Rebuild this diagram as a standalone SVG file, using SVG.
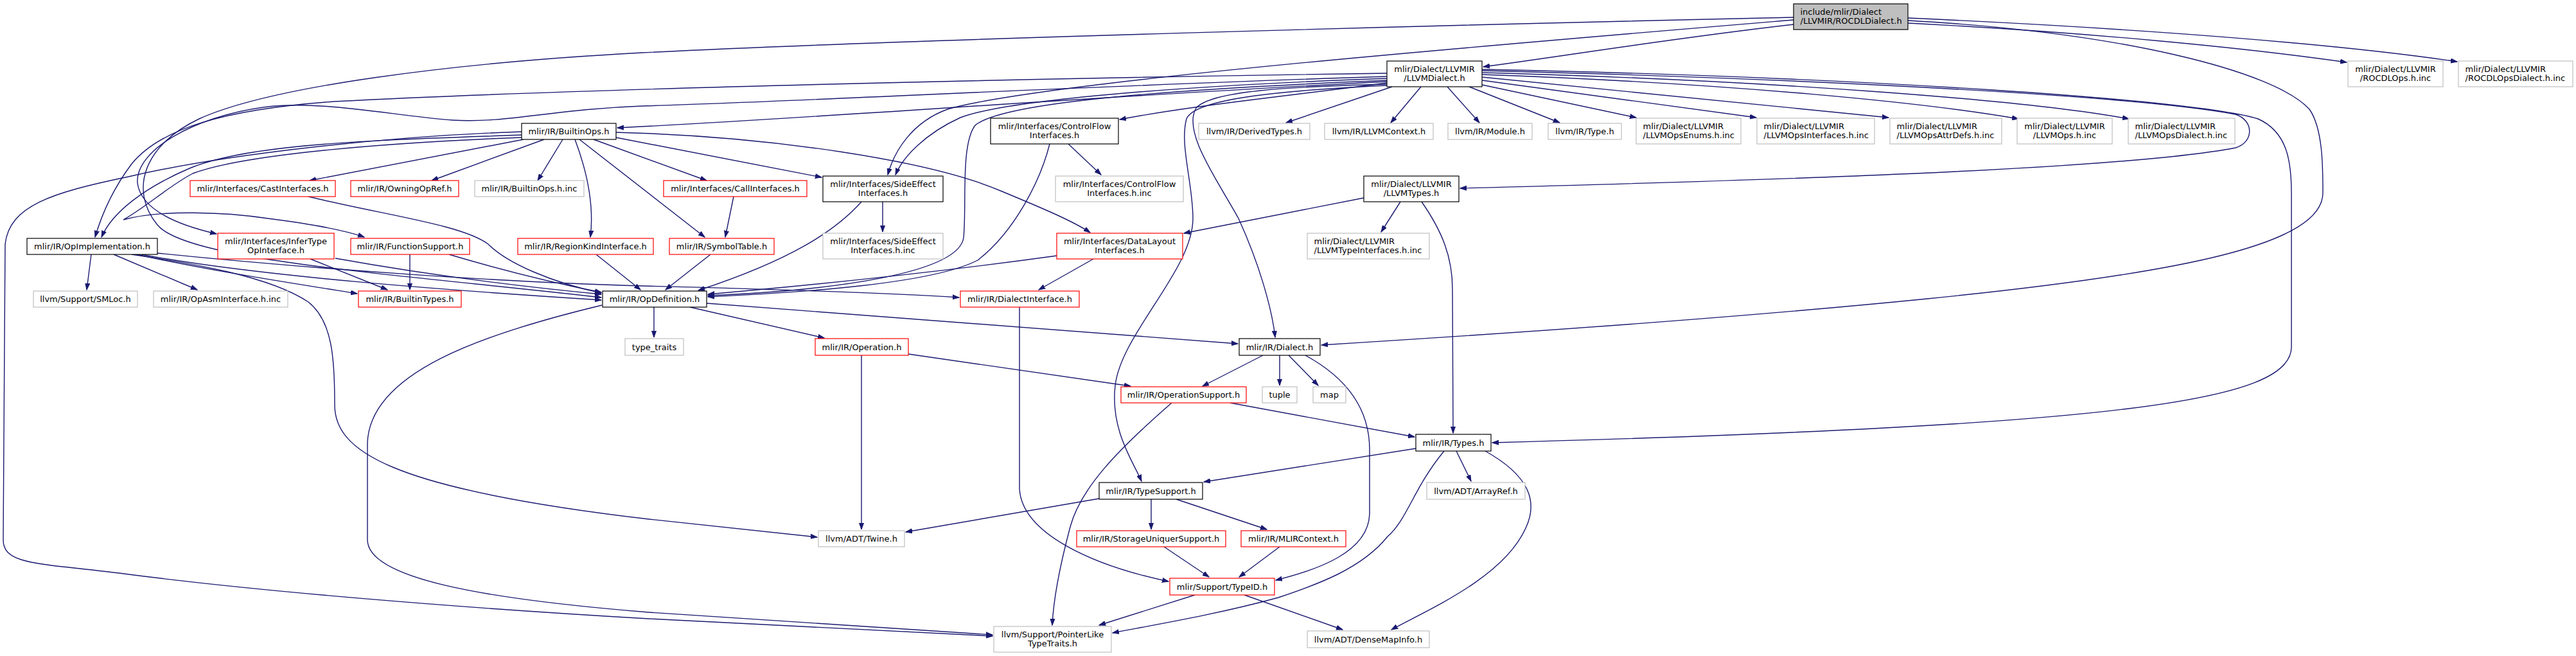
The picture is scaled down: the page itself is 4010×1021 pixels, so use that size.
<svg xmlns="http://www.w3.org/2000/svg" width="4010" height="1021" viewBox="0 0 4010 1021">
<style>
.node rect{fill:#fff;stroke-width:1.2}
.k rect{stroke:#000}
.r rect{stroke:#ff0000}
.g rect{stroke:#bfbfbf}
.root rect{fill:#bfbfbf;stroke:#000}
text{font-family:"DejaVu Sans","Liberation Sans",sans-serif;font-size:13px;fill:#000;text-anchor:middle}
.l text{text-anchor:start}
#edges path{fill:none;stroke:#191970;stroke-width:1.4;marker-end:url(#ah)}
</style>
<defs>
<marker id="ah" markerUnits="userSpaceOnUse" markerWidth="11" markerHeight="8" refX="10" refY="4" orient="auto" viewBox="0 0 11 8">
<path d="M0,0.5 L10,4 L0,7.5 z" fill="#191970" stroke="#191970" stroke-width="1"/>
</marker>
</defs>
<rect width="4010" height="1021" fill="#fff"/>
<g id="edges">
<path d="M2792,38 C2600,60 2450,85 2309,104"/>
<path d="M2792,31 C2300,72 1620,128 1475,170 C1420,190 1392,235 1382,272"/>
<path d="M2792,27 C2200,40 1400,62 1000,82 C700,98 420,135 310,185 C225,225 200,295 245,350 C290,405 600,425 936,463"/>
<path d="M2970,32 C3300,50 3540,110 3595,170 C3616,200 3616,260 3616,300 C3616,380 3400,425 3000,465 C2700,495 2300,522 2057,537"/>
<path d="M2970,36 C3250,50 3500,75 3653,97"/>
<path d="M2970,28 C3350,45 3650,70 3825,96"/>
<path d="M2159,127 C1700,150 1300,182 961,199"/>
<path d="M2159,114 C1600,122 900,138 520,158 C350,170 250,200 205,255 C175,295 158,335 148,369"/>
<path d="M2159,119 C1700,133 1250,158 1000,165 C860,170 790,192 705,187 C610,180 500,155 410,167 C300,182 210,235 214,285 C220,330 285,352 337,364"/>
<path d="M2159,129 C2000,150 1850,165 1743,186"/>
<path d="M2159,122 C1800,135 1560,158 1495,183 C1440,208 1405,245 1394,272"/>
<path d="M2159,125 C1800,140 1560,160 1518,195 C1495,225 1505,320 1500,370 C1492,425 1300,452 1102,460"/>
<path d="M2159,131 C2000,135 1885,142 1862,168 C1840,205 1895,280 1928,340 C1960,410 1980,480 1985,525"/>
<path d="M2159,133 C2010,140 1860,152 1847,185 C1836,225 1857,285 1857,340 C1857,420 1745,520 1736,600 C1728,670 1765,720 1777,749"/>
<path d="M2167,135 L2002,191"/>
<path d="M2212,135 L2165,191"/>
<path d="M2253,135 L2303,191"/>
<path d="M2287,135 L2428,191"/>
<path d="M2307,132 L2547,183"/>
<path d="M2307,125 L2734,183"/>
<path d="M2307,120 L2940,183"/>
<path d="M2307,116 C2700,130 3000,160 3142,185"/>
<path d="M2307,113 C2750,125 3150,155 3314,185"/>
<path d="M2307,110 C2800,122 3320,148 3480,178 C3510,188 3508,222 3480,230 C3300,265 2700,282 2273,293"/>
<path d="M2307,108 C2900,120 3420,155 3515,185 C3560,205 3567,250 3567,300 L3567,540 C3567,625 3300,662 2323,689"/>
<path d="M815,217 L482,281"/>
<path d="M847,217 L672,281"/>
<path d="M876,217 L837,281"/>
<path d="M895,217 C915,270 925,320 919,369"/>
<path d="M902,217 L1097,369"/>
<path d="M924,217 L1100,281"/>
<path d="M959,214 L1279,276"/>
<path d="M959,206 C1200,212 1450,250 1560,298 C1625,325 1672,345 1697,362"/>
<path d="M812,210 C600,218 390,222 295,262 C225,292 175,330 158,369"/>
<path d="M812,214 C600,222 380,240 300,270 C262,290 228,322 192,342 C250,326 350,330 417,340 C480,348 535,358 567,369"/>
<path d="M812,205 C600,212 350,240 200,275 C80,300 15,320 8,380 L5,840 C5,880 60,876 193,893 C400,920 700,945 1010,963 L1545,990"/>
<path d="M480,306 C600,335 720,350 760,380 C790,410 860,440 936,456"/>
<path d="M1142,306 L1129,369"/>
<path d="M1374,314 L1374,361"/>
<path d="M1341,314 C1300,360 1230,405 1087,452"/>
<path d="M1663,224 L1714,272"/>
<path d="M1634,224 C1620,280 1580,360 1522,405 C1450,442 1250,455 1102,462"/>
<path d="M2123,308 L1843,363"/>
<path d="M2180,314 L2150,361"/>
<path d="M2213,314 C2245,360 2261,400 2261,450 L2262,674"/>
<path d="M142,396 L135,451"/>
<path d="M177,396 L307,451"/>
<path d="M213,396 C320,420 450,440 556,457"/>
<path d="M220,396 C400,430 700,452 936,467"/>
<path d="M245,394 C500,420 800,440 1000,445 C1200,450 1400,457 1493,463"/>
<path d="M205,396 C300,410 420,430 480,470 C518,500 521,560 521,630 C521,700 600,760 1010,808 L1272,836"/>
<path d="M483,403 L603,451"/>
<path d="M522,402 C650,425 800,445 936,458"/>
<path d="M638,396 L638,451"/>
<path d="M699,396 C780,420 860,440 936,455"/>
<path d="M928,396 L997,451"/>
<path d="M1106,396 L1036,451"/>
<path d="M1645,398 C1450,425 1250,445 1102,458"/>
<path d="M1702,403 L1617,451"/>
<path d="M1018,478 L1018,525"/>
<path d="M1074,478 L1283,526"/>
<path d="M1100,472 L1927,535"/>
<path d="M937,475 C750,520 575,580 572,690 L572,840 C572,900 750,932 1010,953 L1545,988"/>
<path d="M1587,478 L1587,760 C1590,830 1700,880 1819,905"/>
<path d="M1341,553 L1341,824"/>
<path d="M1414,551 L1760,601"/>
<path d="M1966,553 L1872,601"/>
<path d="M1992,553 L1992,600"/>
<path d="M2006,553 L2052,600"/>
<path d="M2032,553 C2100,590 2132,640 2132,700 L2132,800 C2130,860 2050,887 1986,903"/>
<path d="M1915,627 L2202,680"/>
<path d="M1824,627 C1740,700 1682,760 1666,820 C1650,880 1640,930 1638,973"/>
<path d="M2204,698 L1874,750"/>
<path d="M2267,702 L2290,749"/>
<path d="M2248,702 C2200,760 2190,810 2160,835 C2120,885 2050,910 1990,930 C1900,955 1800,972 1732,985"/>
<path d="M2312,702 C2380,740 2395,780 2375,822 C2340,900 2220,950 2166,980"/>
<path d="M1711,776 L1410,828"/>
<path d="M1792,777 L1792,824"/>
<path d="M1831,777 L1972,824"/>
<path d="M1812,851 L1882,898"/>
<path d="M1992,851 L1929,898"/>
<path d="M1860,926 L1711,973"/>
<path d="M1937,926 L2090,980"/>
</g>
<g id="n0" class="node root l"><rect x="2792" y="6" width="178" height="40"/><text x="2802.5" y="22.5">include/mlir/Dialect</text><text x="2802.5" y="36.5">/LLVMIR/ROCDLDialect.h</text></g>
<g id="n1" class="node k"><rect x="2159" y="95" width="148" height="40"/><text x="2233" y="111.5">mlir/Dialect/LLVMIR</text><text x="2233" y="125.5">/LLVMDialect.h</text></g>
<g id="n2" class="node g"><rect x="3655" y="95" width="148" height="40"/><text x="3729" y="111.5">mlir/Dialect/LLVMIR</text><text x="3729" y="125.5">/ROCDLOps.h.inc</text></g>
<g id="n3" class="node g l"><rect x="3827" y="95" width="178" height="40"/><text x="3837.5" y="111.5">mlir/Dialect/LLVMIR</text><text x="3837.5" y="125.5">/ROCDLOpsDialect.h.inc</text></g>
<g id="n4" class="node k"><rect x="812" y="192" width="147" height="25"/><text x="885.5" y="209">mlir/IR/BuiltinOps.h</text></g>
<g id="n5" class="node k"><rect x="1542" y="184" width="199" height="40"/><text x="1641.5" y="200.5">mlir/Interfaces/ControlFlow</text><text x="1641.5" y="214.5">Interfaces.h</text></g>
<g id="n6" class="node g"><rect x="1866" y="192" width="173" height="25"/><text x="1952.5" y="209">llvm/IR/DerivedTypes.h</text></g>
<g id="n7" class="node g"><rect x="2062" y="192" width="169" height="25"/><text x="2146.5" y="209">llvm/IR/LLVMContext.h</text></g>
<g id="n8" class="node g"><rect x="2254" y="192" width="131" height="25"/><text x="2319.5" y="209">llvm/IR/Module.h</text></g>
<g id="n9" class="node g"><rect x="2410" y="192" width="114" height="25"/><text x="2467" y="209">llvm/IR/Type.h</text></g>
<g id="n10" class="node g l"><rect x="2547" y="184" width="163" height="40"/><text x="2557.5" y="200.5">mlir/Dialect/LLVMIR</text><text x="2557.5" y="214.5">/LLVMOpsEnums.h.inc</text></g>
<g id="n11" class="node g l"><rect x="2735" y="184" width="183" height="40"/><text x="2745.5" y="200.5">mlir/Dialect/LLVMIR</text><text x="2745.5" y="214.5">/LLVMOpsInterfaces.h.inc</text></g>
<g id="n12" class="node g l"><rect x="2942" y="184" width="174" height="40"/><text x="2952.5" y="200.5">mlir/Dialect/LLVMIR</text><text x="2952.5" y="214.5">/LLVMOpsAttrDefs.h.inc</text></g>
<g id="n13" class="node g"><rect x="3140" y="184" width="148" height="40"/><text x="3214" y="200.5">mlir/Dialect/LLVMIR</text><text x="3214" y="214.5">/LLVMOps.h.inc</text></g>
<g id="n14" class="node g l"><rect x="3313" y="184" width="166" height="40"/><text x="3323.5" y="200.5">mlir/Dialect/LLVMIR</text><text x="3323.5" y="214.5">/LLVMOpsDialect.h.inc</text></g>
<g id="n15" class="node r"><rect x="296" y="281" width="226" height="25"/><text x="409" y="298">mlir/Interfaces/CastInterfaces.h</text></g>
<g id="n16" class="node r"><rect x="546" y="281" width="168" height="25"/><text x="630" y="298">mlir/IR/OwningOpRef.h</text></g>
<g id="n17" class="node g"><rect x="739" y="281" width="170" height="25"/><text x="824" y="298">mlir/IR/BuiltinOps.h.inc</text></g>
<g id="n18" class="node r"><rect x="1033" y="281" width="223" height="25"/><text x="1144.5" y="298">mlir/Interfaces/CallInterfaces.h</text></g>
<g id="n19" class="node k"><rect x="1281" y="274" width="187" height="40"/><text x="1374.5" y="290.5">mlir/Interfaces/SideEffect</text><text x="1374.5" y="304.5">Interfaces.h</text></g>
<g id="n20" class="node g"><rect x="1643" y="274" width="199" height="40"/><text x="1742.5" y="290.5">mlir/Interfaces/ControlFlow</text><text x="1742.5" y="304.5">Interfaces.h.inc</text></g>
<g id="n21" class="node k"><rect x="2123" y="274" width="148" height="40"/><text x="2197" y="290.5">mlir/Dialect/LLVMIR</text><text x="2197" y="304.5">/LLVMTypes.h</text></g>
<g id="n22" class="node k"><rect x="42" y="371" width="203" height="25"/><text x="143.5" y="388">mlir/IR/OpImplementation.h</text></g>
<g id="n23" class="node r"><rect x="339" y="363" width="181" height="40"/><text x="429.5" y="379.5">mlir/Interfaces/InferType</text><text x="429.5" y="393.5">OpInterface.h</text></g>
<g id="n24" class="node r"><rect x="546" y="371" width="185" height="25"/><text x="638.5" y="388">mlir/IR/FunctionSupport.h</text></g>
<g id="n25" class="node r"><rect x="806" y="371" width="211" height="25"/><text x="911.5" y="388">mlir/IR/RegionKindInterface.h</text></g>
<g id="n26" class="node r"><rect x="1042" y="371" width="163" height="25"/><text x="1123.5" y="388">mlir/IR/SymbolTable.h</text></g>
<g id="n27" class="node g"><rect x="1281" y="363" width="187" height="40"/><text x="1374.5" y="379.5">mlir/Interfaces/SideEffect</text><text x="1374.5" y="393.5">Interfaces.h.inc</text></g>
<g id="n28" class="node r"><rect x="1645" y="363" width="196" height="40"/><text x="1743" y="379.5">mlir/Interfaces/DataLayout</text><text x="1743" y="393.5">Interfaces.h</text></g>
<g id="n29" class="node g l"><rect x="2035" y="363" width="190" height="40"/><text x="2045.5" y="379.5">mlir/Dialect/LLVMIR</text><text x="2045.5" y="393.5">/LLVMTypeInterfaces.h.inc</text></g>
<g id="n30" class="node g"><rect x="52" y="453" width="162" height="25"/><text x="133" y="470">llvm/Support/SMLoc.h</text></g>
<g id="n31" class="node g"><rect x="239" y="453" width="209" height="25"/><text x="343.5" y="470">mlir/IR/OpAsmInterface.h.inc</text></g>
<g id="n32" class="node r"><rect x="558" y="453" width="160" height="25"/><text x="638" y="470">mlir/IR/BuiltinTypes.h</text></g>
<g id="n33" class="node k"><rect x="938" y="453" width="162" height="25"/><text x="1019" y="470">mlir/IR/OpDefinition.h</text></g>
<g id="n34" class="node r"><rect x="1495" y="453" width="185" height="25"/><text x="1587.5" y="470">mlir/IR/DialectInterface.h</text></g>
<g id="n35" class="node g"><rect x="973" y="527" width="91" height="26"/><text x="1018.5" y="544.5">type_traits</text></g>
<g id="n36" class="node r"><rect x="1269" y="527" width="145" height="26"/><text x="1341.5" y="544.5">mlir/IR/Operation.h</text></g>
<g id="n37" class="node k"><rect x="1929" y="527" width="126" height="26"/><text x="1992" y="544.5">mlir/IR/Dialect.h</text></g>
<g id="n38" class="node r"><rect x="1745" y="602" width="195" height="25"/><text x="1842.5" y="619">mlir/IR/OperationSupport.h</text></g>
<g id="n39" class="node g"><rect x="1965" y="602" width="54" height="25"/><text x="1992" y="619">tuple</text></g>
<g id="n40" class="node g"><rect x="2044" y="602" width="51" height="25"/><text x="2069.5" y="619">map</text></g>
<g id="n41" class="node k"><rect x="2204" y="676" width="117" height="26"/><text x="2262.5" y="693.5">mlir/IR/Types.h</text></g>
<g id="n42" class="node k"><rect x="1711" y="751" width="161" height="26"/><text x="1791.5" y="768.5">mlir/IR/TypeSupport.h</text></g>
<g id="n43" class="node g"><rect x="2221" y="751" width="153" height="26"/><text x="2297.5" y="768.5">llvm/ADT/ArrayRef.h</text></g>
<g id="n44" class="node g"><rect x="1274" y="826" width="134" height="25"/><text x="1341" y="843">llvm/ADT/Twine.h</text></g>
<g id="n45" class="node r"><rect x="1676" y="826" width="232" height="25"/><text x="1792" y="843">mlir/IR/StorageUniquerSupport.h</text></g>
<g id="n46" class="node r"><rect x="1932" y="826" width="163" height="25"/><text x="2013.5" y="843">mlir/IR/MLIRContext.h</text></g>
<g id="n47" class="node r"><rect x="1821" y="900" width="163" height="26"/><text x="1902.5" y="917.5">mlir/Support/TypeID.h</text></g>
<g id="n48" class="node g"><rect x="1547" y="975" width="183" height="40"/><text x="1638.5" y="991.5">llvm/Support/PointerLike</text><text x="1638.5" y="1005.5">TypeTraits.h</text></g>
<g id="n49" class="node g"><rect x="2035" y="982" width="190" height="26"/><text x="2130" y="999.5">llvm/ADT/DenseMapInfo.h</text></g>
</svg>
